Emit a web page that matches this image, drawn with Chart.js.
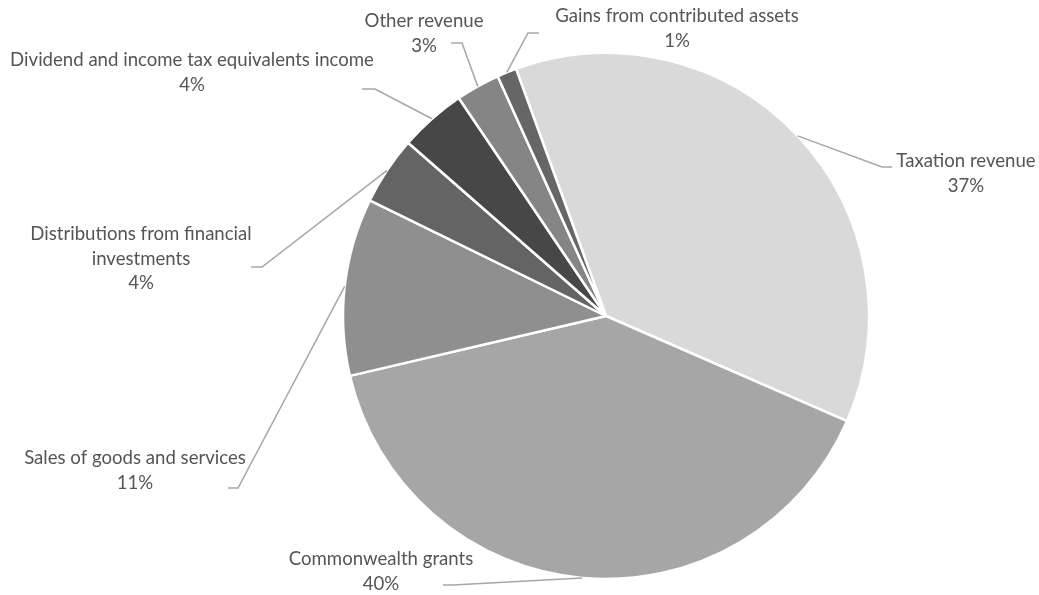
<!DOCTYPE html>
<html>
<head>
<meta charset="utf-8">
<script src="https://cdn.jsdelivr.net/npm/chart.js@4.4.1/dist/chart.umd.min.js"></script>
<style>
  html, body { margin: 0; padding: 0; background: #ffffff; }
  #wrap { width: 1039px; height: 595px; position: relative; }
</style>
</head>
<body>
<div id="wrap"><canvas id="c" width="1039" height="595"></canvas></div>
<script>
// ---- Data ----
const categories = [
  "Taxation revenue",
  "Commonwealth grants",
  "Sales of goods and services",
  "Distributions from financial investments",
  "Dividend and income tax equivalents income",
  "Other revenue",
  "Gains from contributed assets"
];
const shares = [37.1, 39.8, 10.9, 4.2, 4.1, 2.7, 1.2];

// ---- Styles / layout (not data) ----
const sliceColors = ["#d9d9d9", "#a6a6a6", "#8f8f8f", "#646464", "#474747", "#858585", "#666666"];
const labelLines = [
  ["Taxation revenue"],
  ["Commonwealth grants"],
  ["Sales of goods and services"],
  ["Distributions from financial", "investments"],
  ["Dividend and income tax equivalents income"],
  ["Other revenue"],
  ["Gains from contributed assets"]
];
// label layout relative to the pie centre: text centre x, first baseline y, leader elbow and end
const labelLayout = [
  { tx: 360,  ty: -149, ex: 276,  ey: -149, hx: 286 },
  { tx: -225, ty: 249,  ex: -153, ey: 269,  hx: -163 },
  { tx: -471, ty: 148,  ex: -368, ey: 172,  hx: -378 },
  { tx: -465, ty: -76,  ex: -344, ey: -49,  hx: -355 },
  { tx: -414, ty: -250, ex: -231, ey: -227, hx: -244 },
  { tx: -182, ty: -289, ex: -144, ey: -273, hx: -155 },
  { tx: 71,   ty: -294, ex: -78,  ey: -283, hx: -67 }
];
const labelFont = "18.6px Lato";
const lineHeight = 24.5;

const labelPlugin = {
  id: "excelLabels",
  afterDatasetsDraw(chart) {
    const meta = chart.getDatasetMeta(0);
    const data = chart.data.datasets[0].data;
    const total = data.reduce((a, b) => a + b, 0);
    const ctx = chart.ctx;
    ctx.save();
    meta.data.forEach((arc, i) => {
      const p = arc.getProps(["x", "y", "startAngle", "endAngle", "outerRadius"], true);
      const mid = (p.startAngle + p.endAngle) / 2;
      const sx = p.x + Math.cos(mid) * p.outerRadius;
      const sy = p.y + Math.sin(mid) * p.outerRadius;
      const L = labelLayout[i];
      ctx.strokeStyle = "#a6a6a6";
      ctx.lineWidth = 1.5;
      ctx.beginPath();
      ctx.moveTo(sx, sy);
      ctx.lineTo(p.x + L.ex, p.y + L.ey);
      ctx.lineTo(p.x + L.hx, p.y + L.ey);
      ctx.stroke();
      ctx.fillStyle = "#555555";
      ctx.font = labelFont;
      ctx.textAlign = "center";
      ctx.textBaseline = "alphabetic";
      const lines = labelLines[i].concat([Math.round(data[i] / total * 100) + "%"]);
      lines.forEach((t, k) => {
        ctx.fillText(t, p.x + L.tx, p.y + L.ty + k * lineHeight);
      });
    });
    ctx.restore();
  }
};

new Chart(document.getElementById("c"), {
  type: "pie",
  data: {
    labels: categories,
    datasets: [{
      data: shares,
      backgroundColor: sliceColors,
      borderColor: "#ffffff",
      borderWidth: 2.5,
      hoverOffset: 0
    }]
  },
  options: {
    responsive: false,
    animation: false,
    rotation: -20,
    radius: 263,
    layout: { padding: { left: 173, right: 0, top: 37, bottom: 0 } },
    events: [],
    plugins: {
      legend: { display: false },
      tooltip: { enabled: false },
      title: { display: false }
    }
  },
  plugins: [labelPlugin]
});
</script>
</body>
</html>
